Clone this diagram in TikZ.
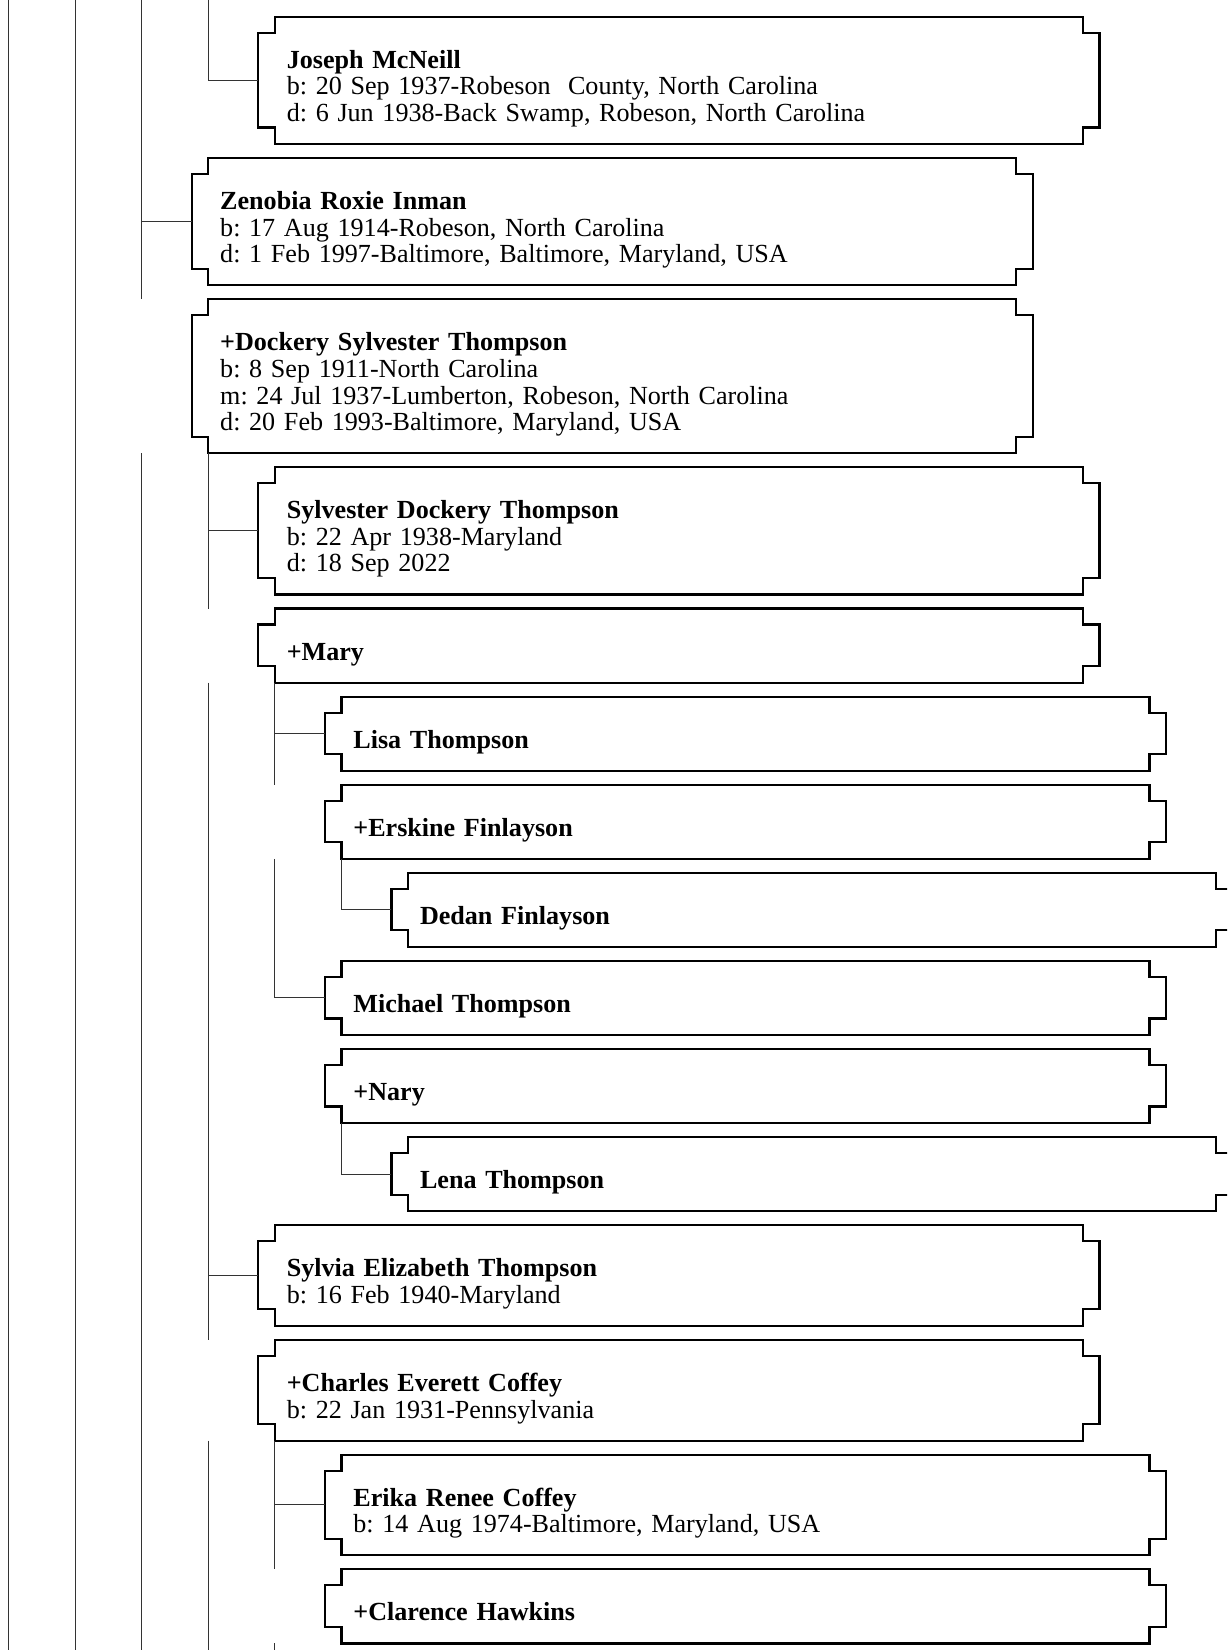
\documentclass[tikz,border=0pt]{standalone}
\usepackage{fontspec}
\setmainfont{Liberation Serif}
\frenchspacing

\tikzset{
    card/.style={anchor=north west, inner xsep=12pt, inner ysep=0pt, outer sep=0pt,
        text width=784pt, align=left, text height=51.5pt,
        font=\fontsize{26.1}{26.6}\selectfont},
    oneline/.style={text depth=22.6pt},
    twoline/.style={text depth=49.2pt},
    threeline/.style={text depth=75.8pt},
    fourline/.style={text depth=102.4pt},
    cardline/.style={line width=2.2pt, line join=miter},
    link/.style={line width=1pt, black!80}
}

\begin{document}
\begin{tikzpicture}[x=1pt, y=-1pt]
    \useasboundingbox (0,0) rectangle (1227,1650);
    \clip (0,0) rectangle (1227,1650);

    \node[card, threeline] (joseph) at (274.8,16.7) {
        \textbf{Joseph McNeill}\\
        b: 20 Sep 1937-Robeson\ \ County, North Carolina\\
        d: 6 Jun 1938-Back Swamp, Robeson, North Carolina
    };
    \node[card, threeline] (zenobia) at (208.2,158.0) {
        \textbf{Zenobia Roxie Inman}\\
        b: 17 Aug 1914-Robeson, North Carolina\\
        d: 1 Feb 1997-Baltimore, Baltimore, Maryland, USA
    };
    \node[card, fourline] (dockery) at (208.2,299.3) {
        \textbf{+Dockery Sylvester Thompson}\\
        b: 8 Sep 1911-North Carolina\\
        m: 24 Jul 1937-Lumberton, Robeson, North Carolina\\
        d: 20 Feb 1993-Baltimore, Maryland, USA
    };
    \node[card, threeline] (sylvester) at (274.8,467.2) {
        \textbf{Sylvester Dockery Thompson}\\
        b: 22 Apr 1938-Maryland\\
        d: 18 Sep 2022
    };
    \node[card, oneline] (mary) at (274.8,608.5) {\textbf{+Mary}};
    \node[card, oneline] (lisa) at (341.4,696.6) {\textbf{Lisa Thompson}};
    \node[card, oneline] (erskine) at (341.4,784.7) {\textbf{+Erskine Finlayson}};
    \node[card, oneline] (dedan) at (408.0,872.8) {\textbf{Dedan Finlayson}};
    \node[card, oneline] (michael) at (341.4,960.9) {\textbf{Michael Thompson}};
    \node[card, oneline] (nary) at (341.4,1049.0) {\textbf{+Nary}};
    \node[card, oneline] (lena) at (408.0,1137.1) {\textbf{Lena Thompson}};
    \node[card, twoline] (sylvia) at (274.8,1225.2) {
        \textbf{Sylvia Elizabeth Thompson}\\
        b: 16 Feb 1940-Maryland
    };
    \node[card, twoline] (charles) at (274.8,1339.9) {
        \textbf{+Charles Everett Coffey}\\
        b: 22 Jan 1931-Pennsylvania
    };
    \node[card, twoline] (erika) at (341.4,1454.6) {
        \textbf{Erika Renee Coffey}\\
        b: 14 Aug 1974-Baltimore, Maryland, USA
    };
    \node[card, oneline] (clarence) at (341.4,1569.3) {\textbf{+Clarence Hawkins}};

    \foreach \n in {joseph,zenobia,dockery,sylvester,mary,lisa,erskine,dedan,michael,nary,lena,sylvia,charles,erika,clarence}
        \draw[cardline] (\n.north west) -- ([yshift=-16pt]\n.north west)
            -- ([xshift=-16.6pt,yshift=-16pt]\n.north west)
            -- ([xshift=-16.6pt,yshift=16.6pt]\n.south west)
            -- ([yshift=16.6pt]\n.south west) -- (\n.south west) -- (\n.south east)
            -- ([yshift=16.6pt]\n.south east)
            -- ([xshift=16.6pt,yshift=16.6pt]\n.south east)
            -- ([xshift=16.6pt,yshift=-16pt]\n.north east)
            -- ([yshift=-16pt]\n.north east) -- (\n.north east) -- cycle;

    \coordinate (rail0) at (8.4,0);
    \coordinate (rail1) at (75,0);
    \coordinate (rail2) at (141.6,0);
    \coordinate (rail3) at (208.2,0);
    \coordinate (floor) at (0,1650);

    \draw[link] (rail0) -- (rail0 |- floor);
    \draw[link] (rail1) -- (rail1 |- floor);
    \draw[link] (rail2) -- (rail2 |- dockery.north);
    \draw[link] (rail2 |- zenobia.west) -- ([xshift=-16.6pt]zenobia.west);
    \draw[link] (rail2 |- dockery.south) -- (rail2 |- floor);
    \draw[link] (rail3) |- ([xshift=-16.6pt]joseph.west);

    \draw[link] (dockery.south west) -- (dockery.south west |- mary.north);
    \draw[link] (dockery.south west |- sylvester.west) -- ([xshift=-16.6pt]sylvester.west);
    \draw[link] (dockery.south west |- mary.south) -- (dockery.south west |- charles.north);
    \draw[link] (dockery.south west |- sylvia.west) -- ([xshift=-16.6pt]sylvia.west);
    \draw[link] (dockery.south west |- charles.south) -- (dockery.south west |- floor);

    \draw[link] (mary.south west) -- (mary.south west |- erskine.north);
    \draw[link] (mary.south west |- lisa.west) -- ([xshift=-16.6pt]lisa.west);
    \draw[link] (mary.south west |- erskine.south) |- ([xshift=-16.6pt]michael.west);
    \draw[link] (erskine.south west) |- ([xshift=-16.6pt]dedan.west);
    \draw[link] (nary.south west) |- ([xshift=-16.6pt]lena.west);

    \draw[link] (charles.south west) -- (charles.south west |- clarence.north);
    \draw[link] (charles.south west |- erika.west) -- ([xshift=-16.6pt]erika.west);
    \draw[link] (charles.south west |- clarence.south) -- (charles.south west |- floor);
\end{tikzpicture}
\end{document}
